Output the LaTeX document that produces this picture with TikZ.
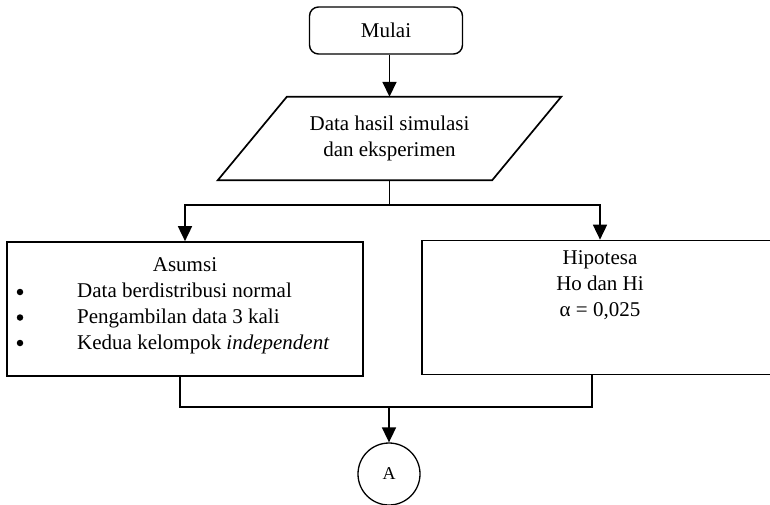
\documentclass[tikz,border=0pt]{standalone}
\usepackage{fontspec}
\setmainfont{Liberation Serif}
\usetikzlibrary{arrows.meta,calc}
\begin{document}
\begin{tikzpicture}[x=1pt,y=1pt,
  every node/.style={font=\fontsize{21}{26}\selectfont, inner sep=0pt},
  line/.style={line width=1.7pt},
  flow/.style={line, -{Triangle[length=15pt,width=14pt]}},
  terminal/.style={draw, line width=1.4pt, rounded corners=9pt, minimum width=153pt, minimum height=47pt},
  procbox/.style={draw, line width=1.7pt, minimum width=356pt, minimum height=134pt},
  connector/.style={draw, circle, line width=1.3pt, minimum size=62pt},
  dot/.style={circle, fill, minimum size=6.5pt}
]
\useasboundingbox (0,0) rectangle (770,-504);

% start terminal
\node[terminal] (mulai) at (386,-30.5) {Mulai};

% input parallelogram (text box plus slanted outline)
\node[minimum width=274pt, minimum height=83pt, align=center] (data) at (389.5,-138.5)
  {Data hasil simulasi\\dan eksperimen};
\draw[line] ([xshift=-34.5pt]data.south west) -- ([xshift=-34.5pt]data.south east)
  -- ([xshift=34.5pt]data.north east) -- ([xshift=34.5pt]data.north west) -- cycle;

% assumptions and hypothesis boxes
\node[procbox] (kiri) at (185,-309) {};
\node[procbox] (kanan) at (600,-307.5) {};

\node[anchor=base] (asumsi) at (185,-271) {Asumsi};
\node[dot] (b1) at (20,-292) {};
\node[anchor=base west] (t1) at (77,-297) {Data berdistribusi normal};
\node[dot] (b2) at (20,-317.5) {};
\node[anchor=base west] (t2) at (77,-323) {Pengambilan data 3 kali};
\node[dot] (b3) at (20,-343) {};
\node[anchor=base west] (t3) at (77,-349) {Kedua kelompok \textit{independent}};

\node[anchor=north, align=center] (hipotesa) at (600,-250)
  {Hipotesa\\Ho dan Hi\\α = 0,025};

% off-page connector
\node[connector] (A) at (389,-474) {\fontsize{18}{20}\selectfont A};

% connectors
\draw[flow] (mulai.south -| data.north) -- (data.north);
\coordinate (split) at (389.5,-205);
\draw[line] (data.south) -- (split);
\draw[flow] (split) -| (kiri.north);
\draw[flow] (split) -| (kanan.north);

\coordinate (join) at (389,-407);
\draw[line] (kiri.south -| 180,0) -- (180,-407) -- (592,-407) -- (kanan.south -| 592,0);
\draw[flow] (join) -- (A.north);
\end{tikzpicture}
\end{document}
